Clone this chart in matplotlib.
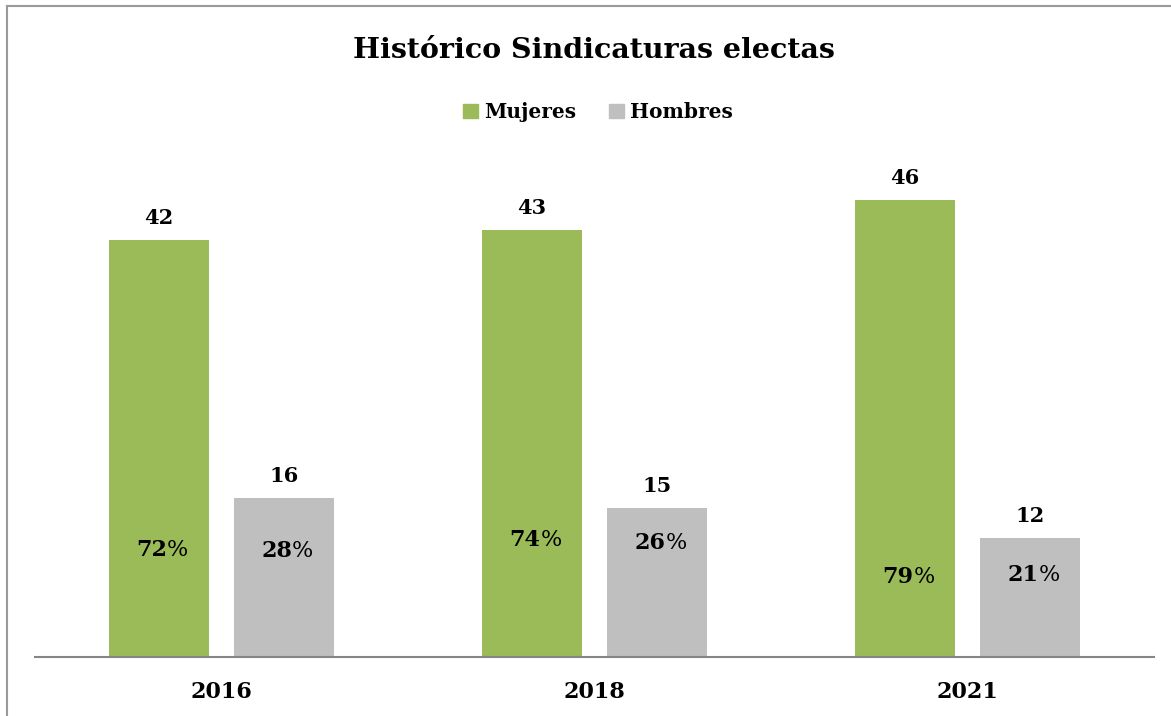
import matplotlib
matplotlib.use("Agg")
import matplotlib.pyplot as plt
from matplotlib.lines import Line2D
from matplotlib.patches import Patch
import numpy as np

years = ["2016", "2018", "2021"]
mujeres = [42, 43, 46]
hombres = [16, 15, 12]
pct_mujeres = [72, 74, 79]
pct_hombres = [28, 26, 21]
# vertical placement (data units) of the manually placed percent labels
pct_y_mujeres = [10.8, 11.8, 8.1]
pct_y_hombres = [10.7, 11.5, 8.3]

GREEN = "#9BBB59"
GRAY = "#BFBFBF"
FONT = "DejaVu Serif"

W, H = 1171, 716
fig = plt.figure(figsize=(W / 100, H / 100), dpi=100)
fig.patch.set_facecolor("white")

ax = fig.add_axes([34.5 / W, 1 - 657 / H, (1154 - 34.5) / W, (657 - 160.5) / H])
x = np.arange(len(years))
bw = 0.268
gap = 0.067
off = (bw + gap) / 2
ax.bar(x - off, mujeres, bw, color=GREEN, label="Mujeres")
ax.bar(x + off, hombres, bw, color=GRAY, label="Hombres")
ax.set_xlim(-0.5, 2.5)
ax.set_ylim(0, 50)

for s in ["top", "right", "left"]:
    ax.spines[s].set_visible(False)
ax.spines["bottom"].set_color("#868686")
ax.spines["bottom"].set_linewidth(1.5)
ax.set_yticks([])
ax.set_xticks(x)
ax.set_xticklabels(years, fontfamily=FONT, fontweight="bold", fontsize=16)
ax.tick_params(axis="x", length=0, pad=17)

for i in range(len(years)):
    ax.text(x[i] - off, mujeres[i] + 1.2, str(mujeres[i]), ha="center", va="bottom",
            fontfamily=FONT, fontweight="bold", fontsize=15)
    ax.text(x[i] + off, hombres[i] + 1.2, str(hombres[i]), ha="center", va="bottom",
            fontfamily=FONT, fontweight="bold", fontsize=15)
    for xc, p, yp in [(x[i] - off, pct_mujeres[i], pct_y_mujeres[i]),
                      (x[i] + off, pct_hombres[i], pct_y_hombres[i])]:
        ax.text(xc + 0.023, yp, str(p), ha="right", va="center",
                fontfamily=FONT, fontweight="bold", fontsize=16)
        ax.text(xc + 0.023, yp, "%", ha="left", va="center",
                fontfamily=FONT, fontweight="normal", fontsize=16)

fig.text(594 / W, 1 - 50 / H, "Histórico Sindicaturas electas", ha="center", va="center",
         fontfamily=FONT, fontweight="bold", fontsize=20.5)

handles = [Patch(color=GREEN), Patch(color=GRAY)]
fig.legend(handles, ["Mujeres", "Hombres"], loc="center", bbox_to_anchor=(598 / W, 1 - 112 / H),
           ncol=2, frameon=False, handlelength=0.75, handleheight=0.75, handletextpad=0.3,
           columnspacing=1.6, prop={"family": FONT, "weight": "bold", "size": 14.5})

# outer chart border (top and left visible)
fig.add_artist(Line2D([7 / W, 1.0], [1 - 6 / H, 1 - 6 / H], color="#9a9a9a", lw=1.5))
fig.add_artist(Line2D([7 / W, 7 / W], [1 - 6 / H, 0.0], color="#9a9a9a", lw=1.5))

fig.savefig("out.png", dpi=100)
